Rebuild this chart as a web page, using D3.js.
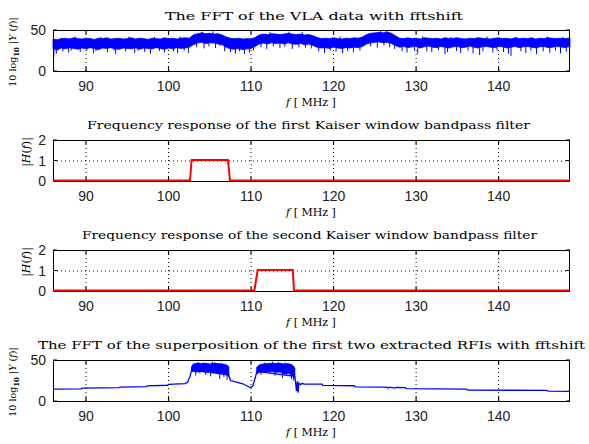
<!DOCTYPE html>
<html><head><meta charset="utf-8">
<script src="https://cdn.jsdelivr.net/npm/d3@7"></script>
<style>body{margin:0;background:#fff}svg{display:block}</style>
</head><body>
<svg id="c" width="589" height="444"></svg>
<script>
// ---------- data ----------
const titles = [
  "The FFT of the VLA data with fftshift",
  "Frequency response of the first Kaiser window bandpass filter",
  "Frequency response of the second Kaiser window bandpass filter",
  "The FFT of the superposition of the first two extracted RFIs with fftshift"
];
const xTicks = [90, 100, 110, 120, 130, 140];
const yTicksDb = [0, 50];
const yTicksH = [0, 1, 2];

// Panel 1: noise band envelope (dB)
const f1 = [86,86.5,87,87.5,88,88.5,89,89.5,90,90.5,91,91.5,92,92.5,93,93.5,94,94.5,95,95.5,96,96.5,97,97.5,98,98.5,99,99.5,100,100.5,101,101.5,102,102.5,
  103,103.5,104,104.5,105,105.5,106,106.5,
  107,107.5,108,108.5,109,109.5,110,
  110.5,111,111.5,112,112.5,113,113.5,114,114.5,115,115.5,116,116.5,117,117.5,
  118,118.5,119,119.5,120,120.5,121,121.5,122,122.5,123,123.5,
  124,124.5,125,125.5,126,126.5,127,127.5,
  128,128.5,129,129.5,130,130.5,131,131.5,132,132.5,133,133.5,134,134.5,135,135.5,136,136.5,137,137.5,138,138.5,139,139.5,140,140.5,141,141.5,142,142.5,143,143.5,144,144.5,145,145.5,146,146.5,147,147.5,148,148.5,
  148.65];
const top1 = [39,38,39.5,40,39,40.5,39.5,39,40,39.5,38.5,40,39.5,40.5,39,39.5,40,39,39.5,40.5,39,40,39.5,38.5,40,39.5,39,40.5,39.5,40,39,40,40.5,40,
  44,45.5,46.5,45.5,46,45,45.5,44,
  41.5,40,39.5,40,39,39.5,39,
  41,44,45,44.5,45.5,45,44.5,45,46,45,44.5,45,44,44.5,43,
  41,39.5,40,39.5,40.5,39.5,39,40,39.5,40.5,40,41.5,
  44.5,46,46.5,47,46.5,47.5,46,43,
  40,39.5,40.5,39.5,40,39,40.5,40,39.5,40,39,40.5,39.5,40,40.5,39.5,39,40,39.5,40.5,40,39.5,39,40,40.5,39.5,40,39,40.5,39.5,40,39.5,40.5,39,40,39.5,40.5,40,39.5,40,39.5,40,
  40];
const bot1 = [27,25.5,28,27,28.5,27.5,26.5,28,27,28.5,27.5,26,28,27.5,28.5,27,26.5,28,27.5,27,28.5,26.5,28,27.5,27,28.5,27.5,26.5,28,27,28.5,27.5,28,29,
  32,34,35,33.5,34.5,34,33,32,
  29,27,26.5,27.5,26,27,27.5,
  30,33,34,33,34.5,33.5,34,33,34.5,33,32.5,33.5,32,33,31,
  29,28,28.5,27.5,29,28,27.5,28.5,28,29,28.5,30,
  33,34.5,35,35.5,34.5,35,33.5,31,
  29,30,28.5,29.5,30,28,29.5,30.5,29,28.5,30,29,28,29.5,30,28.5,29,30.5,29,28,29.5,30,29,28.5,30,29.5,28,29,30,28.5,29.5,30,29,28,29.5,30,28.5,29,30,29.5,28.5,29.5,
  29];
// downward noise spikes
const spikeF1 = [86.1,86.4,87.2,87.9,88.2,89.3,90.1,90.9,91.2,92.6,93.4,93.6,94.8,95.9,96.3,97.1,97.8,98.9,99.5,100.6,101.1,101.9,102.4,
  103.4,104.3,104.9,105.7,106.2,106.8,
  107.5,108.1,108.6,109.2,109.8,110.3,
  111.2,111.9,112.7,113.5,114.1,115.0,115.8,116.6,117.3,
  118.2,118.9,119.6,120.3,121.1,121.7,122.4,123.2,
  124.5,125.3,126.1,126.8,127.4,
  128.3,128.9,129.8,130.2,131.3,131.9,132.7,133.5,133.8,134.9,135.4,136.3,136.9,137.7,138.1,139.3,139.8,140.6,141.2,141.5,142.7,143.3,143.9,144.6,145.4,146.2,146.9,147.5,148.2];
const spikeV1 = [17,21,24,22.5,25,23,25.5,21.5,24,23,25,20.5,24,22,25,23.5,21,24.5,22.5,24,21.5,25,22,
  29,27.5,30,28,31,24,
  23,21,24,20.5,22.5,25,
  29,27,30,28,29.5,27,29,28.5,27.5,
  24,22,25,23.5,21.5,24.5,23,25,
  30,28.5,31,29,27,
  24,22.5,25,21,24,23,25.5,20.5,23,24.5,22,25,21.5,19.5,24,22.5,25,23,21,18.5,24,22,25,20.5,24,22.5,25,21.5,23.5];
// upward noise spikes
const upF1 = [88.7,91.8,95.2,98.3,101.4,104.1,105.4,112.3,114.6,116.2,120.8,125.7,126.4,130.8,134.2,138.6,142.1,145.9,147.8];
const upV1 = [42,41.5,42,41.5,42,48,48.5,47.5,48,47.5,42,49,49.5,42,41.5,42,41.5,42,41.5];

// Panel 2 & 3: filter magnitude responses
const f2 = [86,102.6,102.8,107.2,107.45,148.65];
const h2 = [0,0,1,1,0,0];
const f3 = [86,110.4,110.8,115.05,115.2,148.65];
const h3 = [0,0,1,1,0,0];

// Panel 4: extracted RFIs (dB)
const f4 = [86,89.4,89.5,94,94.1,97.3,97.4,99.9,100,102,102.3,102.6,102.8, 107.3,107.5,108,109,109.6,109.9,110.2,110.5,110.7, 115.3,115.4,115.5,115.6,115.7,115.8,116,116.2,116.4,118.6,118.7,122.5,122.6,126.5,126.6,126.8,127.4,127.6,128.7,128.8,136.1,136.3,145.8,146,148.65];
const v4 = [14.6,14.8,15.6,16.2,17,17.6,18.5,19.2,20.3,21.2,22.8,30,38, 32,25,23.5,21,18,16.5,18,28,36, 30,22,12,24,10,22,20,21.5,20.5,20.5,19,18.6,17.2,16.8,15.6,16.8,15.8,16.6,16.4,15,14.4,13.3,12.9,12.1,11.8];
const fb1 = [102.8,103,103.5,104,104.5,105,105.5,106,106.5,107,107.3];
const tb1 = [42,45,46,45.5,46,45,46,45.5,45,44,42];
const bb1 = [36,36,35.5,36,35,36,35,34,33,32,30];
const fb2 = [110.7,111,111.5,112,112.5,113,113.5,114,114.5,115,115.3];
const tb2 = [41,44,45,45.5,46,45.5,46,45,45.5,44,40];
const bb2 = [33,35,36,35.5,36,35,35.5,33,34,31,28];
const spikeF4 = [103.3,103.8,104.5,105.1,105.9,106.2,106.7,107.1,111.2,112.3,112.9,113.8,114.3,114.9,115.15];
const spikeV4 = [31,33.5,32,30,33,27,29.5,26,32,33.5,31,28,30.5,27,25];
const upF4 = [103.6,104.2,105.3,105.6,106.4,111.6,112.6,113.3,114.1];
const upV4 = [47.5,47,48,47,46.5,47,48,47.5,47];

// ---------- layout ----------
const svg = d3.select("#c");
const L = 53, R = 570, H = 41;
const tops = [30, 140, 250, 360];
const x = d3.scaleLinear().domain([86, 148.65]).range([L, R]);
const serif = "'DejaVu Serif', 'Liberation Serif', serif";
const sans = "'Liberation Sans', Arial, sans-serif";
const titleX = [[165,463],[87,530],[82,537],[38,585]];

function panel(i, yDomain, yTicks) {
  const t = tops[i];
  const y = d3.scaleLinear().domain(yDomain).range([t + H, t]);
  const g = svg.append("g");
  g.selectAll(".gx").data(xTicks).join("line")
    .attr("x1", d => x(d)).attr("x2", d => x(d)).attr("y1", t).attr("y2", t + H)
    .attr("stroke", "#000").attr("stroke-width", 1).attr("stroke-dasharray", "1,3");
  g.selectAll(".gy").data(yTicks.filter(d => d !== yDomain[0] && d !== yDomain[1])).join("line")
    .attr("x1", L).attr("x2", R).attr("y1", d => y(d) + 0.5).attr("y2", d => y(d) + 0.5)
    .attr("stroke", "#000").attr("stroke-width", 1).attr("stroke-dasharray", "1,3");
  const tx = titleX[i];
  g.append("text").attr("x", tx[0]).attr("y", t - (i === 0 ? 10 : 11))
    .attr("font-family", serif).attr("font-size", 11)
    .attr("textLength", tx[1] - tx[0]).attr("lengthAdjust", "spacingAndGlyphs")
    .text(titles[i]);
  const xl = g.append("text").attr("x", 311).attr("y", t + H + 35)
    .attr("text-anchor", "middle").attr("font-family", serif).attr("font-size", 11);
  xl.append("tspan").attr("font-style", "italic").text("f");
  xl.append("tspan").text(" [ MHz ]");
  return { g, y, t };
}

function frame(p, yTicks) {
  const { g, y, t } = p;
  g.append("rect").attr("x", L + 0.5).attr("y", t + 0.5).attr("width", R - L - 1).attr("height", H)
    .attr("fill", "none").attr("stroke", "#000").attr("stroke-width", 1);
  g.selectAll(".tb").data(xTicks).join("path")
    .attr("d", d => `M${x(d)},${t + H}v-4M${x(d)},${t}v4`)
    .attr("stroke", "#000").attr("stroke-width", 1.2);
  g.selectAll(".tl").data(yTicks).join("path")
    .attr("d", d => `M${L},${y(d)}h4M${R},${y(d)}h-4`)
    .attr("stroke", "#000").attr("stroke-width", 1);
  g.selectAll(".xl").data(xTicks).join("text")
    .attr("x", d => x(d)).attr("y", t + H + 20).attr("text-anchor", "middle")
    .attr("font-family", sans).attr("font-size", 14).attr("fill", "#222").text(d => d);
  g.selectAll(".yl").data(yTicks).join("text")
    .attr("x", L - 7).attr("y", d => y(d) + 5).attr("text-anchor", "end")
    .attr("font-family", sans).attr("font-size", 14).attr("fill", "#222").text(d => d);
}

function dbLabel(cy) {
  const tl = svg.append("text").attr("transform", `translate(16,${cy}) rotate(-90)`)
    .attr("text-anchor", "middle").attr("font-family", serif).attr("font-size", 9.5);
  tl.append("tspan").text("10 log");
  tl.append("tspan").attr("font-size", 7).attr("font-weight", "bold").attr("dy", 3).text("10");
  tl.append("tspan").attr("dy", -3).text(" |");
  tl.append("tspan").attr("font-style", "italic").text("Y");
  tl.append("tspan").text(" (");
  tl.append("tspan").attr("font-style", "italic").text("f");
  tl.append("tspan").text(")|");
}
function hLabel(cy) {
  const tl = svg.append("text").attr("transform", `translate(30,${cy}) rotate(-90)`)
    .attr("text-anchor", "middle").attr("font-family", serif).attr("font-size", 11);
  tl.append("tspan").text("|");
  tl.append("tspan").attr("font-style", "italic").text("H");
  tl.append("tspan").text("(");
  tl.append("tspan").attr("font-style", "italic").text("f");
  tl.append("tspan").text(")|");
}

const blue = "#0000ff", red = "#ff0000";

function spikes(p, fs, vs, base) {
  p.g.append("g").selectAll("line").data(fs).join("line")
    .attr("x1", d => x(d)).attr("x2", d => x(d))
    .attr("y1", (d, i) => p.y(vs[i])).attr("y2", p.y(base))
    .attr("stroke", blue).attr("stroke-width", 1);
}

// ---------- panel 1 ----------
{
  const p = panel(0, [0, 50], yTicksDb);
  const area = d3.area().x((d, i) => x(f1[i])).y0((d, i) => p.y(bot1[i])).y1((d, i) => p.y(top1[i]));
  p.g.append("path").datum(f1).attr("d", area).attr("fill", blue).attr("stroke", blue).attr("stroke-width", 0.8);
  spikes(p, spikeF1, spikeV1, 35);
  spikes(p, upF1, upV1, 35);
  frame(p, yTicksDb);
  dbLabel(52);
}
// ---------- panel 2 & 3 ----------
[[f2, h2, 1], [f3, h3, 2]].forEach(([ff, hh, i]) => {
  const p = panel(i, [0, 2], yTicksH);
  frame(p, yTicksH);
  const line = d3.line().x((d, k) => x(ff[k])).y((d, k) => p.y(hh[k]) - 0.5);
  p.g.append("path").datum(ff).attr("d", line).attr("fill", "none").attr("stroke", red).attr("stroke-width", 2);
  hLabel(tops[i] + 12);
});
// ---------- panel 4 ----------
{
  const p = panel(3, [0, 50], yTicksDb);
  const line = d3.line().x((d, k) => x(f4[k])).y((d, k) => p.y(v4[k]));
  p.g.append("path").datum(f4).attr("d", line).attr("fill", "none").attr("stroke", blue).attr("stroke-width", 1.3);
  [[fb1, tb1, bb1], [fb2, tb2, bb2]].forEach(([ff, tt, bb]) => {
    const area = d3.area().x((d, k) => x(ff[k])).y0((d, k) => p.y(bb[k])).y1((d, k) => p.y(tt[k]));
    p.g.append("path").datum(ff).attr("d", area).attr("fill", blue).attr("stroke", blue).attr("stroke-width", 1);
  });
  spikes(p, spikeF4, spikeV4, 38);
  spikes(p, upF4, upV4, 40);
  frame(p, yTicksDb);
  dbLabel(382);
}
</script>
</body></html>
